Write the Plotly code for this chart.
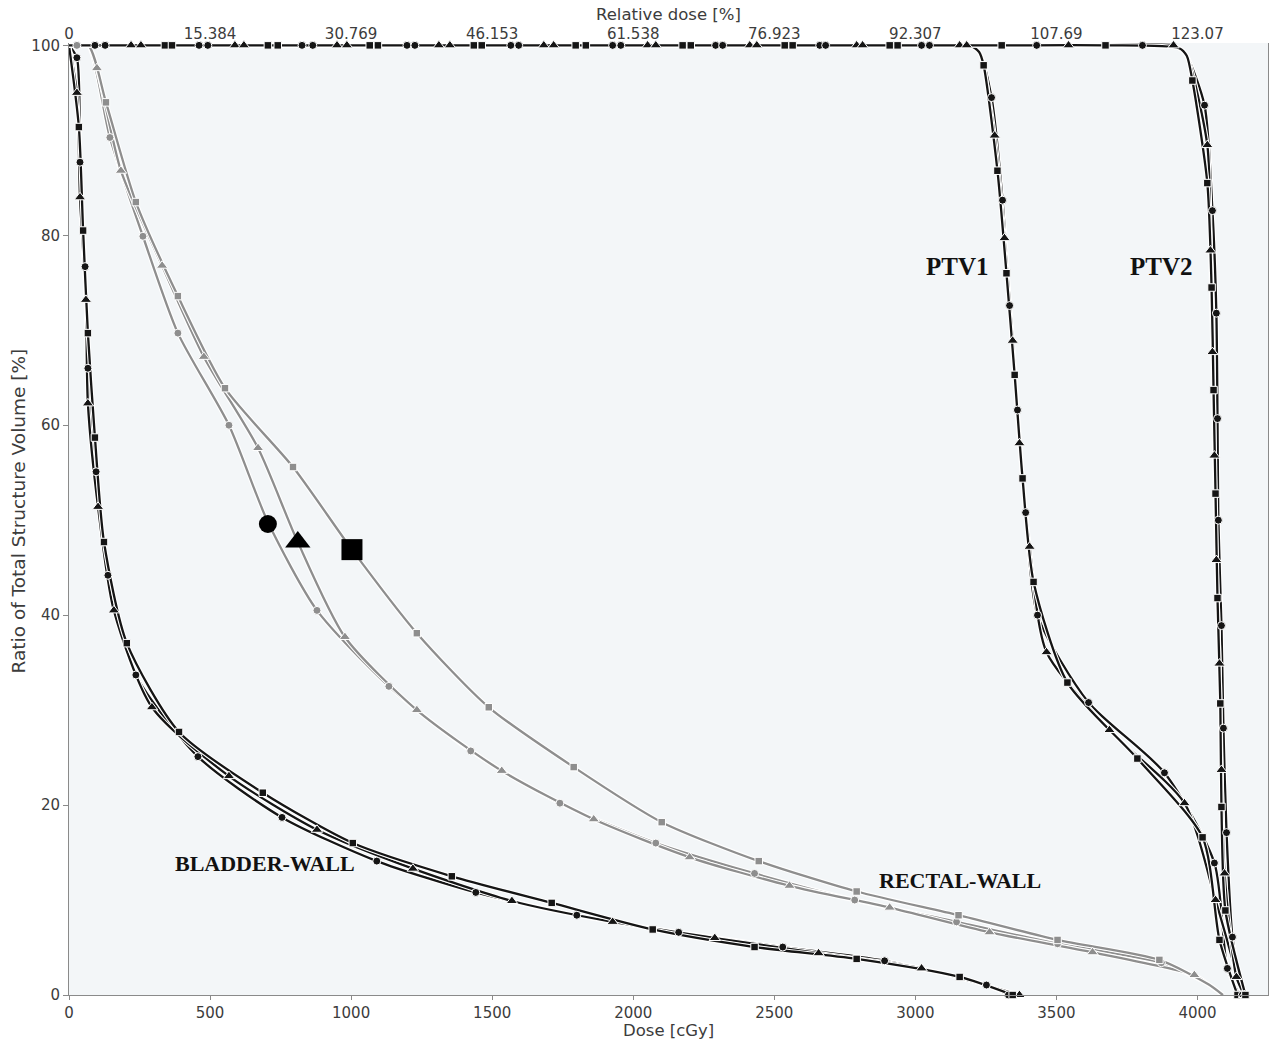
import plotly.graph_objects as go

# ---- axes -------------------------------------------------------------
DOSE_TICKS = [0, 500, 1000, 1500, 2000, 2500, 3000, 3500, 4000]
REL_DOSE_LABELS = ["0", "15.384", "30.769", "46.153", "61.538", "76.923",
                   "92.307", "107.69", "123.07"]
VOLUME_TICKS = [0, 20, 40, 60, 80, 100]

# plan symbols: circle, triangle, square
SYMBOLS = ["circle", "triangle-up", "square"]

# ---- BLADDER-WALL (dose cGy / volume %) -------------------------------
BLADDER_EDGE_DOSE = [0]
BLADDER_EDGE_VOL = [100]
BLADDER_C_DOSE = [28, 39, 57, 67, 96, 138, 237, 457, 755, 1091, 1442, 1800, 2161, 2530, 2891, 3252, 3330]
BLADDER_C_VOL = [98.7, 87.7, 76.7, 66.0, 55.1, 44.2, 33.7, 25.1, 18.7, 14.1, 10.8, 8.4, 6.6, 5.05, 3.6, 1.05, 0]
BLADDER_T_DOSE = [28, 39, 60, 67, 103, 159, 294, 567, 879, 1219, 1570, 1927, 2289, 2657, 3022, 3369]
BLADDER_T_VOL = [95.0, 84.0, 73.2, 62.3, 51.4, 40.5, 30.3, 23.05, 17.4, 13.3, 9.9, 7.7, 6.0, 4.4, 2.8, 0]
BLADDER_S_DOSE = [35, 50, 67, 92, 124, 205, 390, 687, 1006, 1357, 1711, 2069, 2430, 2792, 3157, 3345]
BLADDER_S_VOL = [91.4, 80.5, 69.7, 58.7, 47.7, 37.05, 27.7, 21.3, 16.0, 12.5, 9.7, 6.9, 5.05, 3.8, 1.9, 0]

# ---- RECTAL-WALL -----------------------------------------------------
RECTAL_EDGE_DOSE = [0, 68, 4040, 4090]
RECTAL_EDGE_VOL = [100, 100, 1.1, 0]
RECTAL_C_DOSE = [28, 145, 262, 386, 567, 705, 879, 1134, 1424, 1740, 2080, 2430, 2785, 3146, 3504, 3872]
RECTAL_C_VOL = [100, 90.3, 79.9, 69.7, 60.0, 49.8, 40.5, 32.5, 25.7, 20.2, 16.0, 12.8, 10.0, 7.7, 5.4, 3.4]
RECTAL_T_DOSE = [99, 184, 330, 478, 670, 808, 978, 1233, 1534, 1860, 2200, 2554, 2909, 3263, 3628, 3989]
RECTAL_T_VOL = [97.6, 86.8, 76.8, 67.2, 57.6, 47.9, 37.7, 30.0, 23.6, 18.5, 14.5, 11.5, 9.2, 6.6, 4.5, 2.1]
RECTAL_S_DOSE = [131, 237, 386, 553, 794, 1003, 1233, 1488, 1789, 2101, 2445, 2792, 3153, 3504, 3865]
RECTAL_S_VOL = [94.0, 83.5, 73.6, 63.9, 55.6, 46.9, 38.1, 30.3, 24.0, 18.2, 14.1, 10.9, 8.4, 5.8, 3.7]

# ---- PTV1 ------------------------------------------------------------
PTV1_EDGE_DOSE = [0, 3190, 3226]
PTV1_EDGE_VOL = [100, 100, 99.3]
PTV1_C_DOSE = [92, 461, 826, 1198, 1566, 1927, 2292, 2661, 3022,
               3270, 3309, 3334, 3362, 3391, 3433, 3614, 3883, 4060, 4106, 4149]
PTV1_C_VOL = [100, 100, 100, 100, 100, 100, 100, 100, 100,
              94.5, 83.7, 72.6, 61.6, 50.8, 40.0, 30.8, 23.4, 13.9, 2.8, 0]
PTV1_T_DOSE = [220, 588, 950, 1311, 1683, 2051, 2413, 2792, 3157,
               3281, 3316, 3345, 3369, 3405, 3465, 3688, 3954, 4064, 4159]
PTV1_T_VOL = [100, 100, 100, 100, 100, 100, 100, 100, 100,
              90.5, 79.7, 68.9, 58.1, 47.2, 36.1, 27.9, 20.2, 10.0, 0]
PTV1_S_DOSE = [340, 705, 1066, 1435, 1796, 2175, 2537, 2909,
               3242, 3291, 3323, 3352, 3380, 3419, 3539, 3787, 4018, 4078, 4142]
PTV1_S_VOL = [100, 100, 100, 100, 100, 100, 100, 100,
              97.9, 86.8, 76.0, 65.3, 54.4, 43.5, 32.9, 24.9, 16.6, 5.8, 0]

# ---- PTV2 ------------------------------------------------------------
PTV2_EDGE_DOSE = [0, 3935, 3962]
PTV2_EDGE_VOL = [100, 99.7, 98.9]
PTV2_C_DOSE = [128, 492, 864, 1226, 1594, 1956, 2317, 2682, 3050, 3430, 3805,
               4025, 4053, 4067, 4071, 4074, 4085, 4092, 4103, 4124, 4159]
PTV2_C_VOL = [100, 100, 100, 100, 100, 100, 100, 100, 100, 100, 100,
              93.7, 82.6, 71.8, 60.7, 50.0, 38.9, 28.1, 17.1, 6.1, 0]
PTV2_T_DOSE = [255, 620, 985, 1350, 1718, 2080, 2438, 2813, 3182, 3543, 3915,
               4035, 4046, 4053, 4060, 4067, 4078, 4085, 4096, 4138, 4166]
PTV2_T_VOL = [100, 100, 100, 100, 100, 100, 100, 100, 100, 100, 100,
              89.5, 78.4, 67.7, 56.8, 45.8, 34.9, 23.7, 12.8, 1.9, 0]
PTV2_S_DOSE = [365, 740, 1095, 1463, 1832, 2204, 2565, 2937, 3306, 3674,
               3982, 4035, 4050, 4057, 4064, 4071, 4081, 4085, 4099, 4170]
PTV2_S_VOL = [100, 100, 100, 100, 100, 100, 100, 100, 100, 100,
              96.3, 85.5, 74.5, 63.7, 52.8, 41.8, 30.7, 19.8, 8.9, 0]

# ---- large plan keys placed on the rectal-wall curves -----------------
KEY_DOSE = [705, 811, 1003]
KEY_VOL = [49.6, 47.7, 46.9]

BLACK = "#151515"
GREY = "#8e8e8e"
AXIS = "#8a8a8a"
TICK_FONT = dict(family="DejaVu Sans", size=15, color="#3c3c3c")
MARKER_SIZE = {"circle": 8, "triangle-up": 10, "square": 7.5}

structures = [
    (GREY, RECTAL_EDGE_DOSE, RECTAL_EDGE_VOL,
     [(RECTAL_C_DOSE, RECTAL_C_VOL), (RECTAL_T_DOSE, RECTAL_T_VOL), (RECTAL_S_DOSE, RECTAL_S_VOL)]),
    (BLACK, BLADDER_EDGE_DOSE, BLADDER_EDGE_VOL,
     [(BLADDER_C_DOSE, BLADDER_C_VOL), (BLADDER_T_DOSE, BLADDER_T_VOL), (BLADDER_S_DOSE, BLADDER_S_VOL)]),
    (BLACK, PTV1_EDGE_DOSE, PTV1_EDGE_VOL,
     [(PTV1_C_DOSE, PTV1_C_VOL), (PTV1_T_DOSE, PTV1_T_VOL), (PTV1_S_DOSE, PTV1_S_VOL)]),
    (BLACK, PTV2_EDGE_DOSE, PTV2_EDGE_VOL,
     [(PTV2_C_DOSE, PTV2_C_VOL), (PTV2_T_DOSE, PTV2_T_VOL), (PTV2_S_DOSE, PTV2_S_VOL)]),
]


def dvh_path(dose, vol, edge_dose, edge_vol):
    """Vertices of one DVH line: the plan's points plus the structure's shared edge points."""
    pts = sorted(zip(list(dose) + list(edge_dose), list(vol) + list(edge_vol)),
                 key=lambda p: (p[0], -p[1]))
    return [p[0] for p in pts], [p[1] for p in pts]


fig = go.Figure()
marker_traces = []
for color, edose, evol, plans in structures:
    for sym, (dose, vol) in zip(SYMBOLS, plans):
        lx, ly = dvh_path(dose, vol, edose, evol)
        # white casing under each line keeps neighbouring plans apart
        fig.add_trace(go.Scatter(x=lx, y=ly, mode="lines",
                                 line=dict(color="white", width=4.5, shape="spline", smoothing=0.7),
                                 hoverinfo="skip", showlegend=False))
        fig.add_trace(go.Scatter(x=lx, y=ly, mode="lines",
                                 line=dict(color=color, width=2.3, shape="spline", smoothing=0.7),
                                 hoverinfo="skip", showlegend=False))
        marker_traces.append(go.Scatter(
            x=dose, y=vol, mode="markers", cliponaxis=False, showlegend=False,
            marker=dict(symbol=sym, size=MARKER_SIZE[sym], color=color, opacity=1,
                        line=dict(color="white", width=1))))

for tr in marker_traces:
    fig.add_trace(tr)

fig.add_trace(go.Scatter(
    x=KEY_DOSE, y=KEY_VOL, mode="markers", showlegend=False, cliponaxis=False,
    marker=dict(symbol=SYMBOLS, size=[18, 22, 21], color="black", opacity=1, line=dict(width=0))))

# carrier for the relative-dose axis on top
fig.add_trace(go.Scatter(x=[0], y=[0], xaxis="x2", mode="markers",
                         marker=dict(opacity=0), hoverinfo="skip", showlegend=False))

label_font = dict(family="Liberation Serif", color="#111111")
annotations = [
    dict(x=3151, y=76.7, text="<b>PTV1</b>", font=dict(size=25, **label_font)),
    dict(x=3874, y=76.7, text="<b>PTV2</b>", font=dict(size=25, **label_font)),
    dict(x=695, y=13.9, text="<b>BLADDER-WALL</b>", font=dict(size=22, **label_font)),
    dict(x=3158, y=12.1, text="<b>RECTAL-WALL</b>", font=dict(size=22, **label_font)),
]
for a in annotations:
    a.update(xref="x", yref="y", showarrow=False)

title_font = dict(family="DejaVu Sans", size=16.5, color="#3c3c3c")
annotations += [
    dict(x=0.5, y=0, xref="paper", yref="paper", text="Dose [cGy]", showarrow=False,
         yanchor="top", yshift=-24, font=title_font),
    dict(x=0.5, y=1, xref="paper", yref="paper", text="Relative dose [%]", showarrow=False,
         yanchor="bottom", yshift=17, font=title_font),
    dict(x=0, y=0.5, xref="paper", yref="paper", text="Ratio of Total Structure Volume [%]",
         showarrow=False, textangle=-90, xanchor="right", xshift=-39, yshift=8,
         font=dict(family="DejaVu Sans", size=18.5, color="#3c3c3c")),
]

fig.update_layout(
    width=1271, height=1039,
    margin=dict(l=69, r=3, t=43, b=44),
    paper_bgcolor="white",
    plot_bgcolor="#f3f6f8",
    annotations=annotations,
    xaxis=dict(range=[0, 4250], tickmode="array", tickvals=DOSE_TICKS,
               ticks="outside", ticklen=4, tickcolor=AXIS, tickfont=TICK_FONT,
               showline=True, linecolor=AXIS, linewidth=1, showgrid=False, zeroline=False),
    xaxis2=dict(range=[0, 4250], overlaying="x", side="top", tickmode="array",
                tickvals=DOSE_TICKS, ticktext=REL_DOSE_LABELS,
                ticks="", tickfont=TICK_FONT,
                showline=False, showgrid=False, zeroline=False),
    yaxis=dict(range=[0, 100.25], tickmode="array", tickvals=VOLUME_TICKS,
               ticks="outside", ticklen=5, tickcolor=AXIS, tickfont=TICK_FONT,
               showline=True, linecolor=AXIS, linewidth=1, mirror=True,
               showgrid=False, zeroline=False),
)

fig.write_html("out.html")
